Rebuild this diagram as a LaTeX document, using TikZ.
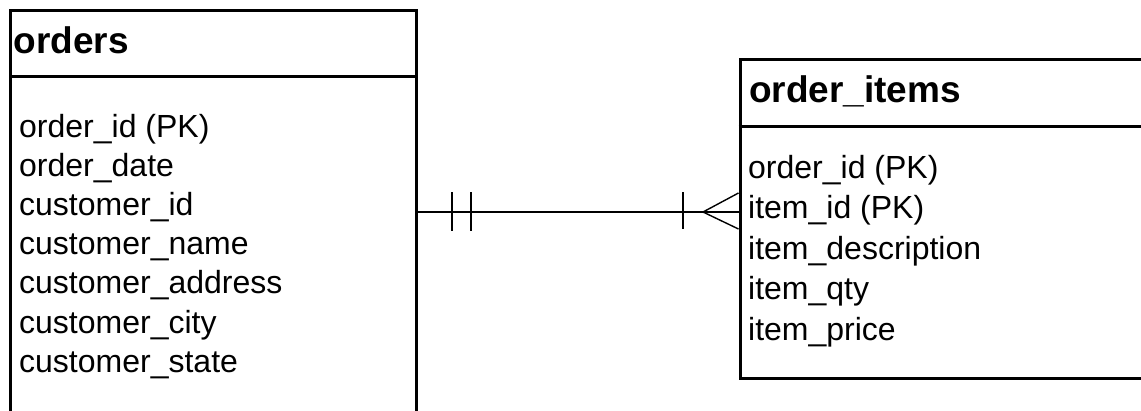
\documentclass[tikz,border=0pt]{standalone}
\usepackage{fontspec}
\setmainfont{Liberation Sans}
\begin{document}
\begin{tikzpicture}[x=1pt,y=-1pt,
  entity/.style={draw=black, line width=3pt, rectangle, inner sep=0pt, anchor=north west},
  divider/.style={draw=black, line width=3pt},
  title/.style={anchor=base west, inner sep=0pt, font=\fontsize{37}{44}\selectfont\bfseries},
  field/.style={anchor=base west, inner sep=0pt, font=\fontsize{32}{38}\selectfont},
  rel/.style={draw=black, line width=1.7pt},
  foot/.style={draw=black, line width=1.4pt}]
\clip (0,0) rectangle (1141,410);
\fill[white] (0,0) rectangle (1141,410);
% entity boxes
\node[entity, minimum width=405.5pt, minimum height=440pt] (orders) at (9,9) {};
\node[entity, minimum width=440pt, minimum height=319.5pt] (items) at (738.5,57.5) {};
\draw[divider] (orders.west |- 0,76) -- (orders.east |- 0,76);
\draw[divider] (items.west |- 0,126) -- (items.east |- 0,126);
% titles
\node[title] (t1) at (13.5,53) {orders};
\node[title] (t2) at (749,102) {order\_items};
% orders fields
\node[field] (o1) at (19,137) {order\_id (PK)};
\node[field] (o2) at (19,176.2) {order\_date};
\node[field] (o3) at (19,215.4) {customer\_id};
\node[field] (o4) at (19,254.6) {customer\_name};
\node[field] (o5) at (19,293.8) {customer\_address};
\node[field] (o6) at (19,333) {customer\_city};
\node[field] (o7) at (19,372.2) {customer\_state};
% order_items fields
\node[field] (i1) at (748,178) {order\_id (PK)};
\node[field] (i2) at (748,218.5) {item\_id (PK)};
\node[field] (i3) at (748,259) {item\_description};
\node[field] (i4) at (748,299.5) {item\_qty};
\node[field] (i5) at (748,340) {item\_price};
% relationship
\coordinate (r) at (0,212);
\coordinate (apex) at (703,212);
\draw[rel] (orders.east |- r) -- (items.west |- r);
\draw[rel] (452,192) -- (452,231);
\draw[rel] (471,192) -- (471,231);
\draw[rel] (683,192) -- (683,229);
\draw[foot] (items.west |- 0,193) -- (apex) -- (items.west |- 0,229);
\end{tikzpicture}
\end{document}
